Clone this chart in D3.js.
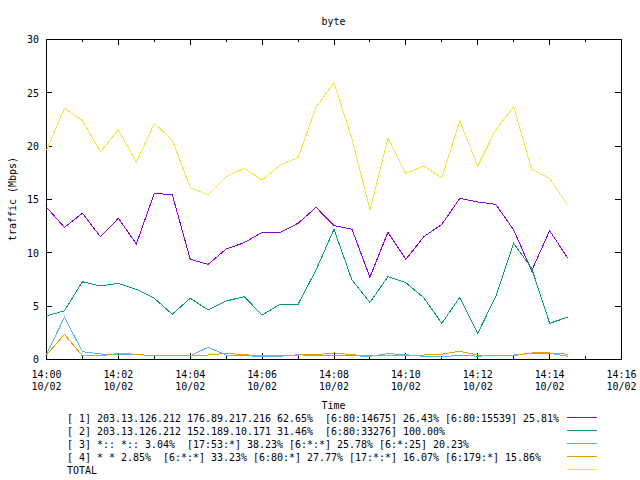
<!DOCTYPE html>
<html><head><meta charset="utf-8">
<script src="https://cdn.jsdelivr.net/npm/d3@7"></script>
<style>
html,body{margin:0;padding:0;background:#fff;}
svg{display:block;}
text{font-family:"DejaVu Sans Mono",monospace;font-size:11px;fill:#000;white-space:pre;}
</style></head><body>
<svg id="c" width="640" height="480"></svg>
<script>
const times = ["14:00:00","14:00:30","14:01:00","14:01:30","14:02:00","14:02:30","14:03:00","14:03:30",
  "14:04:00","14:04:30","14:05:00","14:05:30","14:06:00","14:06:30","14:07:00","14:07:30",
  "14:08:00","14:08:30","14:09:00","14:09:30","14:10:00","14:10:30","14:11:00","14:11:30",
  "14:12:00","14:12:30","14:13:00","14:13:30","14:14:00","14:14:30"];
const series1 = [14.27,12.39,13.71,11.51,13.24,10.83,15.58,15.45,9.39,8.92,10.36,10.95,11.92,11.92,12.77,14.27,12.56,12.21,7.71,11.92,9.39,11.51,12.67,15.11,14.77,14.55,12.14,8.32,12.07,9.54];
const series2 = [4.08,4.57,7.29,6.89,7.14,6.58,5.74,4.24,5.74,4.64,5.48,5.89,4.17,5.17,5.17,8.39,12.21,7.45,5.36,7.76,7.2,5.79,3.39,5.83,2.46,5.89,10.89,8.55,3.39,3.96];
const series3 = [0.5,3.96,0.73,0.52,0.42,0.49,0.33,0.36,0.36,1.14,0.42,0.35,0.3,0.3,0.45,0.35,0.35,0.35,0.3,0.55,0.45,0.3,0.23,0.42,0.3,0.42,0.42,0.58,0.58,0.3];
const series4 = [0.42,2.36,0.33,0.33,0.58,0.49,0.33,0.42,0.42,0.42,0.58,0.45,0.33,0.33,0.42,0.45,0.62,0.45,0.33,0.33,0.42,0.42,0.5,0.77,0.42,0.36,0.36,0.61,0.61,0.5];
const total   = [19.64,23.55,22.39,19.48,21.52,18.49,22.14,20.58,16.11,15.42,17.14,17.92,16.83,18.23,18.92,23.64,25.95,20.7,14.02,20.74,17.46,18.14,17.04,22.36,18.14,21.52,23.7,17.83,16.99,14.48];
const legendLabels = [
  "[ 1] 203.13.126.212 176.89.217.216 62.65%  [6:80:14675] 26.43% [6:80:15539] 25.81%",
  "[ 2] 203.13.126.212 152.189.10.171 31.46%  [6:80:33276] 100.00%",
  "[ 3] *:: *:: 3.04%  [17:53:*] 38.23% [6:*:*] 25.78% [6:*:25] 20.23%",
  "[ 4] * * 2.85%  [6:*:*] 33.23% [6:80:*] 27.77% [17:*:*] 16.07% [6:179:*] 15.86%",
  "TOTAL"];
const xTickTimes = ["14:00","14:02","14:04","14:06","14:08","14:10","14:12","14:14","14:16"];
const xTickDate = "10/02";
const yTicks = [0,5,10,15,20,25,30];
const title = "byte", xTitle = "Time", yTitle = "traffic (Mbps)";

const colors = ["#9400d3","#009e73","#56b4e9","#e69f00","#f0e442"];
const allSeries = [series1, series2, series3, series4, total];

const svg = d3.select("#c");
const CW = 6;
function txt(g, x, y, s, anchor) {
  return g.append("text").attr("x", x).attr("y", y).attr("text-anchor", anchor || "start")
    .attr("textLength", s.length * CW).attr("lengthAdjust", "spacingAndGlyphs").text(s);
}
const parseT = d3.timeParse("%H:%M:%S");
const parseM = d3.timeParse("%H:%M");
const tDates = times.map(parseT);
const majors = xTickTimes.map(parseM);
const x = d3.scaleTime().domain([majors[0], majors[majors.length-1]]).range([46, 621]);
const y = d3.scaleLinear().domain([0, 30]).range([359, 39]);
const minors = d3.timeMinute.range(majors[0], d3.timeMinute.offset(majors[majors.length-1], 1));

// axes
function clean(g){ g.select(".domain").remove(); g.selectAll(".tick line").attr("stroke","#000").attr("shape-rendering","crispEdges"); }
const gb = svg.append("g").attr("transform","translate(0,359)")
  .call(d3.axisBottom(x).tickValues(majors).tickSize(-6).tickFormat(d3.timeFormat("%H:%M"))).call(clean);
gb.selectAll(".tick text").each(function(){
  const t = d3.select(this); const s = t.text();
  t.attr("y", 19).attr("dy", null).attr("textLength", s.length*CW).attr("lengthAdjust","spacingAndGlyphs");
  d3.select(this.parentNode).append("text").attr("y", 31).attr("text-anchor","middle")
    .attr("textLength", xTickDate.length*CW).attr("lengthAdjust","spacingAndGlyphs").text(xTickDate);
});
svg.append("g").attr("transform","translate(0,359)")
  .call(d3.axisBottom(x).tickValues(minors).tickSize(-3).tickFormat("")).call(clean);
svg.append("g").attr("transform","translate(0,39)")
  .call(d3.axisTop(x).tickValues(majors).tickSize(-6).tickFormat("")).call(clean);
svg.append("g").attr("transform","translate(0,39)")
  .call(d3.axisTop(x).tickValues(minors).tickSize(-3).tickFormat("")).call(clean);
const gl = svg.append("g").attr("transform","translate(46,0)")
  .call(d3.axisLeft(y).tickValues(yTicks).tickSize(-6).tickFormat(d3.format("d"))).call(clean);
gl.selectAll(".tick text").each(function(){
  const t = d3.select(this); const s = t.text();
  t.attr("x", -7).attr("dy", "0.36em").attr("textLength", s.length*CW).attr("lengthAdjust","spacingAndGlyphs");
});
svg.append("g").attr("transform","translate(621,0)")
  .call(d3.axisRight(y).tickValues(yTicks).tickSize(-6).tickFormat("")).call(clean);

// border
svg.append("rect").attr("x", x.range()[0]+0.5).attr("y", y.range()[1]+0.5)
  .attr("width", x.range()[1]-x.range()[0]).attr("height", y.range()[0]-y.range()[1])
  .attr("fill","none").attr("stroke","#000").attr("shape-rendering","crispEdges");

// lines
const line = d3.line().x((d,i)=>x(tDates[i])).y(d=>y(d));
const gLines = svg.append("g").attr("transform","translate(0.5,0.5)");
allSeries.forEach((s,i)=>{
  gLines.append("path").datum(s).attr("d", line).attr("fill","none")
    .attr("stroke", colors[i]).attr("stroke-width",1).attr("shape-rendering","crispEdges");
});

// titles
txt(svg, 333.5, 24.5, title, "middle");
txt(svg, 333.5, 408.5, xTitle, "middle");
const yl = svg.append("g").attr("transform","translate(16,199) rotate(-90)");
txt(yl, 0, 0, yTitle, "middle");

// legend
legendLabels.forEach((s,i)=>{
  const ly = 417.5 + 13*i;
  txt(svg, 67, ly+4, s, "start");
  svg.append("line").attr("x1",567).attr("x2",597).attr("y1",ly).attr("y2",ly)
    .attr("stroke",colors[i]).attr("stroke-width",1).attr("shape-rendering","crispEdges");
});
</script>
</body></html>
